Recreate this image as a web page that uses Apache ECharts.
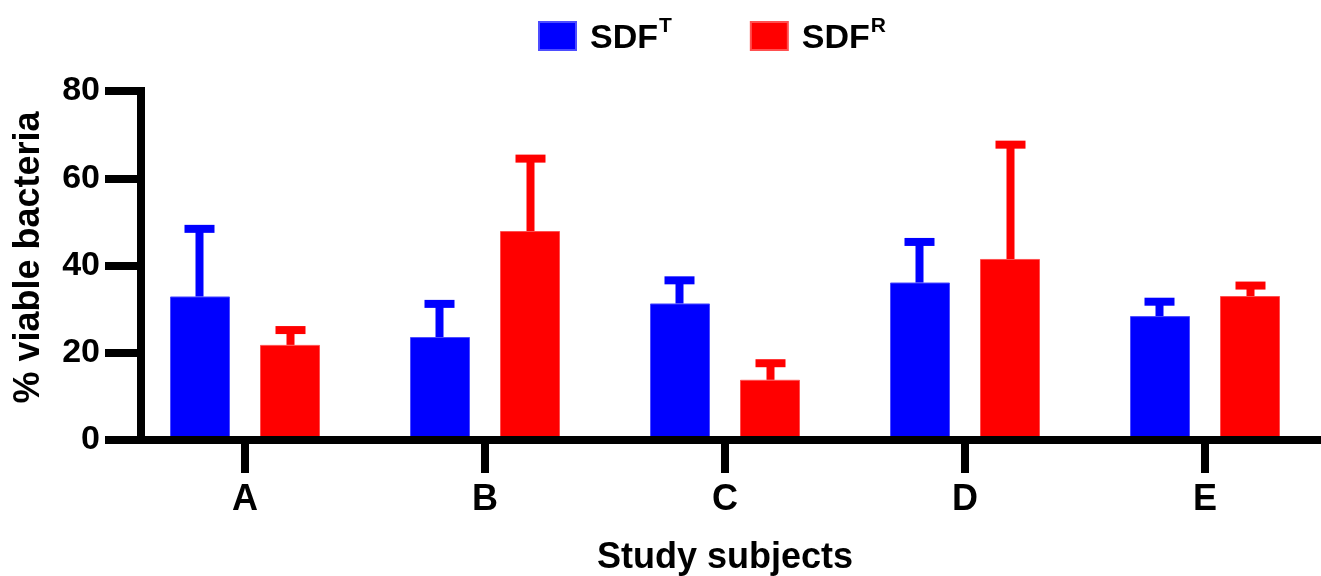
<!DOCTYPE html>
<html>
<head>
<meta charset="utf-8">
<script src="https://cdn.jsdelivr.net/npm/echarts@6/dist/echarts.min.js"></script>
<style>
html,body{margin:0;padding:0;background:#fff;}
#chart{width:1321px;height:576px;}
</style>
</head>
<body>
<div id="chart"></div>
<script>
const categories = ['A', 'B', 'C', 'D', 'E'];
const seriesNames = ['SDF^T', 'SDF^R'];
const meanT = [32.9, 23.6, 31.3, 36.1, 28.4];
const sdT   = [15.5, 7.6, 5.3, 9.3, 3.3];
const meanR = [21.8, 47.9, 13.8, 41.5, 33.0];
const sdR   = [3.4, 16.6, 3.8, 26.2, 2.4];
const yTicks = [0, 20, 40, 60, 80];

const FONT = "'Liberation Sans', Arial, Helvetica, sans-serif";
const BLUE = '#0000FF';
const RED = '#FF0000';

function errData(means, sds) {
  return means.map((m, i) => [i, m, m + sds[i]]);
}

function makeErr(name, means, sds, color, side) {
  return {
    name: name,
    type: 'custom',
    z: 5,
    silent: true,
    data: errData(means, sds),
    encode: { x: 0, y: [1, 2] },
    renderItem: function (params, api) {
      const i = api.value(0);
      const base = api.coord([i, api.value(1)]);
      const top = api.coord([i, api.value(2)]);
      const band = api.size([1, 0])[0];
      const x = base[0] + side * band * 45.5 / 240;
      const capHalf = band * 15 / 240;
      return {
        type: 'group',
        children: [
          { type: 'line', shape: { x1: x, y1: base[1], x2: x, y2: top[1] },
            style: { stroke: color, lineWidth: 8 } },
          { type: 'line', shape: { x1: x - capHalf, y1: top[1], x2: x + capHalf, y2: top[1] },
            style: { stroke: color, lineWidth: 8 } }
        ]
      };
    }
  };
}

const chart = echarts.init(document.getElementById('chart'));
chart.setOption({
  animation: false,
  backgroundColor: '#fff',
  textStyle: { fontFamily: FONT },
  legend: {
    left: 533,
    top: 11,
    itemWidth: 37,
    itemHeight: 28,
    itemGap: 78,
    data: seriesNames,
    icon: 'rect',
    formatter: function (n) {
      const parts = n.split('^');
      return '{a|' + parts[0] + '}{b|' + parts[1] + '}';
    },
    textStyle: {
      padding: [0, 0, 0, 9],
      rich: {
        a: { fontFamily: FONT, fontWeight: 'bold', fontSize: 34, color: '#000', lineHeight: 40, verticalAlign: 'bottom' },
        b: { fontFamily: FONT, fontWeight: 'bold', fontSize: 21, color: '#000', lineHeight: 40, verticalAlign: 'top', padding: [0, 0, 0, 1] }
      }
    }
  },
  grid: { left: 125, right: -4, top: 91, bottom: 136, containLabel: false, outerBoundsMode: 'none' },
  xAxis: {
    type: 'category',
    data: categories,
    z: 10,
    name: 'Study subjects',
    nameLocation: 'middle',
    nameGap: 100,
    nameTextStyle: { fontFamily: FONT, fontWeight: 'bold', fontSize: 36, color: '#000' },
    axisLine: { show: true, lineStyle: { color: '#000', width: 8 } },
    axisTick: { show: true, interval: 0, alignWithLabel: true, length: 33, lineStyle: { color: '#000', width: 8 } },
    axisLabel: { fontFamily: FONT, fontWeight: 'bold', fontSize: 36, color: '#000', margin: 42, interval: 0 },
    splitLine: { show: false }
  },
  yAxis: {
    type: 'value',
    min: 0,
    max: 80,
    interval: 20,
    offset: -16,
    z: 10,
    name: '% viable bacteria',
    nameLocation: 'middle',
    nameGap: 94,
    nameTextStyle: { fontFamily: FONT, fontWeight: 'bold', fontSize: 36, color: '#000', padding: [0, 0, 0, 16] },
    axisLine: { show: true, lineStyle: { color: '#000', width: 8, cap: 'square' } },
    axisTick: { show: true, length: 36, lineStyle: { color: '#000', width: 8 } },
    axisLabel: {
      fontFamily: FONT, fontWeight: 'bold', fontSize: 34, color: '#000', margin: 41,
      formatter: function (v) { return yTicks.indexOf(v) >= 0 ? String(v) : ''; }
    },
    splitLine: { show: false }
  },
  series: [
    { name: seriesNames[0], type: 'bar', data: meanT, barWidth: 60, barGap: '50%',
      itemStyle: { color: BLUE, borderColor: '#4d4dff', borderWidth: 1 } },
    { name: seriesNames[1], type: 'bar', data: meanR, barWidth: 60, barGap: '50%',
      itemStyle: { color: RED, borderColor: '#ff5050', borderWidth: 1 } },
    makeErr('errT', meanT, sdT, BLUE, -1),
    makeErr('errR', meanR, sdR, RED, 1)
  ]
});
</script>
</body>
</html>
